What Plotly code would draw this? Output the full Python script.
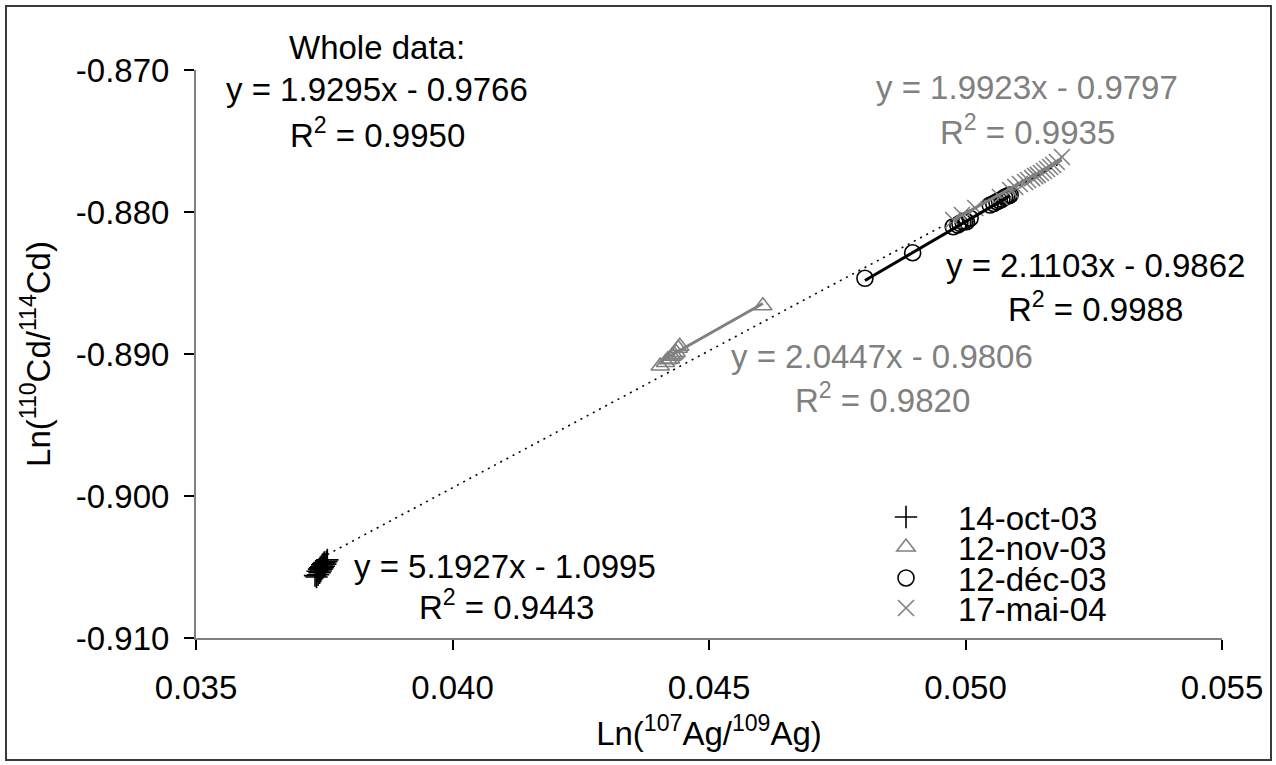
import plotly.graph_objects as go

FONT = "Liberation Sans"
GRAY = "#808080"
BLACK = "#000000"

# ---------------- data ----------------
series_names = ["14-oct-03", "12-nov-03", "12-déc-03", "17-mai-04"]

oct_x = [0.03732, 0.03735, 0.03737, 0.03738, 0.03740, 0.03741, 0.03742, 0.03743, 0.03744,
         0.03745, 0.03746, 0.03747, 0.03748, 0.03749, 0.03750, 0.03752, 0.03754, 0.03756]
oct_y = [-0.90561, -0.90570, -0.90530, -0.90555, -0.90515, -0.90540, -0.90505, -0.90528, -0.90498,
         -0.90515, -0.90485, -0.90505, -0.90478, -0.90495, -0.90468, -0.90480, -0.90462, -0.90450]

nov_x = [0.04405, 0.04415, 0.04420, 0.04425, 0.04428, 0.04432, 0.04436, 0.04440, 0.04443, 0.04605]
nov_y = [-0.89085, -0.89060, -0.89040, -0.89035, -0.89015, -0.89005, -0.88990, -0.88960, -0.88945, -0.88660]

dec_x = [0.04804, 0.04897, 0.04976, 0.04985, 0.04989, 0.04995, 0.04999, 0.05002, 0.05009,
         0.05048, 0.05055, 0.05061, 0.05066, 0.05071, 0.05076, 0.05080, 0.05084, 0.05087]
dec_y = [-0.88467, -0.88287, -0.88104, -0.88092, -0.88080, -0.88070, -0.88062, -0.88068, -0.88044,
         -0.87951, -0.87940, -0.87928, -0.87919, -0.87910, -0.87896, -0.87890, -0.87885, -0.87880]

mai_x = [0.04976, 0.04993, 0.05019, 0.05067, 0.05087, 0.05097, 0.05106, 0.05116, 0.05122, 0.05130,
         0.05136, 0.05141, 0.05147, 0.05153, 0.05159, 0.05165, 0.05171, 0.05178, 0.05188]
mai_y = [-0.88056, -0.88021, -0.87972, -0.87894, -0.87845, -0.87824, -0.87803, -0.87789, -0.87775, -0.87761,
         -0.87747, -0.87739, -0.87725, -0.87711, -0.87697, -0.87683, -0.87669, -0.87648, -0.87613]

fit_slope = [5.1927, 2.0447, 2.1103, 1.9923]
fit_intercept = [-1.0995, -0.9806, -0.9862, -0.9797]
fit_r2 = [0.9443, 0.9820, 0.9988, 0.9935]
whole_slope = 1.9295
whole_intercept = -0.9766
whole_r2 = 0.9950

x_ticks = [0.035, 0.040, 0.045, 0.050, 0.055]
x_tick_labels = ["0.035", "0.040", "0.045", "0.050", "0.055"]
y_ticks = [-0.910, -0.900, -0.890, -0.880, -0.870]
y_tick_labels = ["-0.910", "-0.900", "-0.890", "-0.880", "-0.870"]

# ---------------- geometry ----------------
W, H = 1276, 765
L, R, T, B = 196, 54, 70, 127
PW, PH = W - L - R, H - T - B


def px(xp):
    return (xp - L) / PW


def py(yp):
    return (H - B - yp) / PH


def eq_text(a, b):
    sign = "-" if b < 0 else "+"
    return f"y = {a:.4f}x {sign} {abs(b):.4f}"


def r2_text(r):
    return f"R<sup>2</sup> = {r:.4f}"


xs = [oct_x, nov_x, dec_x, mai_x]
ys = [oct_y, nov_y, dec_y, mai_y]
symbols = ["cross-thin", "triangle-up-open", "circle-open", "x-thin"]
colors = [BLACK, GRAY, BLACK, GRAY]
sizes = [16, 16, 16, 16]
legends = ["legend", "legend2", "legend3", "legend4"]

fig = go.Figure()

for i in range(4):
    fig.add_trace(go.Scatter(
        x=xs[i], y=ys[i], mode="markers", name=series_names[i],
        marker=dict(symbol=symbols[i], size=sizes[i], color=colors[i],
                    line=dict(color=colors[i], width=1.6)),
        legend=legends[i], cliponaxis=False,
    ))

# whole-data trendline (dotted)
all_x = oct_x + nov_x + dec_x + mai_x
wx = [min(all_x), max(all_x)]
fig.add_trace(go.Scatter(
    x=wx, y=[whole_slope * v + whole_intercept for v in wx], mode="lines",
    line=dict(color=BLACK, width=1.6, dash="2px,5px"), showlegend=False, hoverinfo="skip"))

# per-series trendlines
for i in range(4):
    tx = [min(xs[i]), max(xs[i])]
    fig.add_trace(go.Scatter(
        x=tx, y=[fit_slope[i] * v + fit_intercept[i] for v in tx], mode="lines",
        line=dict(color=colors[i], width=3), showlegend=False, hoverinfo="skip"))

# ---------------- annotations ----------------
ann = []


def add_text(text, x, y, color=BLACK):
    ann.append(dict(text=text, x=px(x), y=py(y), xref="paper", yref="paper",
                    xanchor="center", yanchor="middle", showarrow=False,
                    font=dict(family=FONT, size=33, color=color)))


add_text("Whole data:", 377, 47)
add_text(eq_text(whole_slope, whole_intercept), 377, 90)
add_text(r2_text(whole_r2), 377, 133)
# 17-mai-04
add_text(eq_text(fit_slope[3], fit_intercept[3]), 1027, 88, GRAY)
add_text(r2_text(fit_r2[3]), 1027, 130, GRAY)
# 12-déc-03
add_text(eq_text(fit_slope[2], fit_intercept[2]), 1095, 265)
add_text(r2_text(fit_r2[2]), 1095, 307)
# 12-nov-03
add_text(eq_text(fit_slope[1], fit_intercept[1]), 882, 357, GRAY)
add_text(r2_text(fit_r2[1]), 882, 398, GRAY)
# 14-oct-03
add_text(eq_text(fit_slope[0], fit_intercept[0]), 505, 566)
add_text(r2_text(fit_r2[0]), 506, 605)

# ---------------- legends ----------------
leg_rows = [517, 547, 578, 608]
leg_common = dict(xanchor="left", yanchor="middle", bgcolor="rgba(0,0,0,0)",
                  borderwidth=0, itemwidth=94,
                  font=dict(family=FONT, size=33, color=BLACK))
legend_layout = {}
for i, name in enumerate(legends):
    legend_layout[name] = dict(x=px(854), y=py(leg_rows[i]), **leg_common)

axis_font = dict(family=FONT, size=33, color=BLACK)

fig.update_layout(
    width=W, height=H,
    margin=dict(l=L, r=R, t=T, b=B),
    paper_bgcolor="white", plot_bgcolor="white",
    font=dict(family=FONT, size=33, color=BLACK),
    showlegend=True,
    annotations=ann,
    shapes=[dict(type="rect", xref="paper", yref="paper",
                 x0=px(6), x1=px(1271), y0=py(760), y1=py(6),
                 line=dict(color="#3a3a3a", width=2), fillcolor="rgba(0,0,0,0)", layer="below")],
    xaxis=dict(range=[0.035, 0.055], tickvals=x_ticks, ticktext=x_tick_labels,
               showgrid=False, zeroline=False, showline=True, linecolor=GRAY, linewidth=2,
               ticks="outside", ticklen=10, tickwidth=1.5, tickcolor=BLACK,
               tickfont=axis_font, ticklabelstandoff=9,
               title=dict(text="Ln(<sup>107</sup>Ag/<sup>109</sup>Ag)", font=axis_font, standoff=17)),
    yaxis=dict(range=[-0.910, -0.870], tickvals=y_ticks, ticktext=y_tick_labels,
               showgrid=False, zeroline=False, showline=True, linecolor=GRAY, linewidth=2,
               ticks="outside", ticklen=10, tickwidth=1.5, tickcolor=BLACK,
               tickfont=axis_font, ticklabelstandoff=8,
               title=dict(text="Ln(<sup>110</sup>Cd/<sup>114</sup>Cd)", font=axis_font, standoff=15)),
    **legend_layout,
)

fig.write_html("out.html", config={"displayModeBar": False},
               post_script="document.body.style.margin='0';document.body.style.overflow='hidden';")
